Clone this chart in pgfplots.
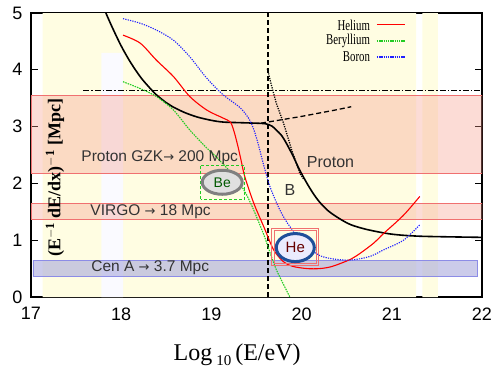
\documentclass[border=0pt]{standalone}
\usepackage{fontspec}
\setmainfont{Liberation Serif}
\setsansfont{Liberation Sans}
\newfontfamily\arrowfont{DejaVu Sans}
\usepackage{pgfplots}
\pgfplotsset{compat=1.18}
\usetikzlibrary{calc,shapes.geometric}

\definecolor{bgyellow}{HTML}{FFFDE2}
\definecolor{bandred}{HTML}{F07070}
\definecolor{bandfill}{HTML}{F59A8A}
\definecolor{cenfill}{HTML}{A8A8DC}
\definecolor{cenline}{HTML}{8C8CE6}
\definecolor{heblue}{HTML}{1F4F9A}
\definecolor{txtgray}{HTML}{333333}
\definecolor{begreen}{HTML}{22CC22}
\definecolor{boblue}{HTML}{2020FF}
\newcommand{\arr}{{\arrowfont\fontsize{13}{13}\selectfont →}}

\begin{document}
\begin{tikzpicture}
\begin{axis}[
    name=ax,
    width=451pt, height=284pt, scale only axis,
    xmin=17, xmax=22, ymin=0, ymax=5,
    xtick={17,18,19,20,21,22}, ytick={0,1,2,3,4,5},
    tick align=inside, major tick length=7pt,
    axis line style={line width=1.3pt},
    tick style={line width=1.1pt, black},
    ticklabel style={font=\sffamily\fontsize{18}{18}\selectfont},
    xticklabel style={yshift=-7pt},
    yticklabel style={xshift=-5pt},
    /pgf/number format/assume math mode=true,
    xlabel={Log\,\raisebox{-5pt}{\fontsize{15}{15}\selectfont 10}\,(E/eV)},
    xlabel style={at={(axis description cs:0.457,-0.204)}, anchor=center,
        font=\fontsize{24}{24}\selectfont},
    ylabel={(E$^{\mathbf{-1}}$ dE/dx)$^{\mathbf{-1}}$ [Mpc]},
    ylabel style={at={(axis description cs:0.053,0.42)}, anchor=center,
        font=\bfseries\fontsize{18}{18}\selectfont},
    clip mode=individual,
]
% pale yellow background
\addplot[fill=bgyellow, draw=none, forget plot] coordinates {(17.13,0) (21.27,0) (21.27,5) (17.13,5) (17.13,0)};
\addplot[fill=bgyellow, draw=none, forget plot] coordinates {(21.34,0) (21.51,0) (21.51,5) (21.34,5) (21.34,0)};
\addplot[fill=white!98!blue, draw=none, forget plot] coordinates {(17.78,0) (18.02,0) (18.02,4.3) (17.78,4.3) (17.78,0)};

% distance bands
\addplot[fill=bandfill, fill opacity=0.35, draw=bandred, line width=0.6pt, forget plot] coordinates {(17,2.18) (22,2.18) (22,3.55) (17,3.55) (17,2.18)};
\addplot[fill=bandfill, fill opacity=0.35, draw=bandred, line width=0.6pt, forget plot] coordinates {(17,1.37) (22,1.37) (22,1.65) (17,1.65) (17,1.37)};
\addplot[fill=cenfill, fill opacity=0.6, draw=cenline, line width=0.5pt, forget plot] coordinates {(17.02,0.37) (21.95,0.37) (21.95,0.65) (17.02,0.65) (17.02,0.37)};

% reference lines
\addplot[black, line width=1.1pt, dash pattern=on 6pt off 2pt on 1.5pt off 2pt, forget plot] coordinates {(17.58,3.63) (22,3.63)};
\addplot[black, line width=1.5pt, dash pattern=on 5pt off 3pt, forget plot] coordinates {(19.63,0) (19.63,5)};

% proton
\addplot[black, line width=1.6pt, smooth, forget plot] coordinates {
(17.83,5.0) (17.9,4.75) (18.0,4.42) (18.1,4.14) (18.21,3.88) (18.3,3.71)
(18.39,3.56) (18.5,3.42) (18.57,3.35) (18.7,3.25) (18.84,3.17) (19.0,3.11)
(19.13,3.08) (19.3,3.07) (19.5,3.06) (19.6,3.05) (19.67,3.01) (19.72,2.94)
(19.78,2.84) (19.83,2.71) (19.9,2.5) (19.95,2.33) (19.99,2.2) (20.06,2.0)
(20.13,1.82) (20.2,1.67) (20.3,1.51) (20.43,1.37) (20.55,1.27) (20.72,1.19)
(20.94,1.12) (21.1,1.09) (21.31,1.07) (21.6,1.06) (22,1.05)};
\addplot[black, line width=1.3pt, dash pattern=on 5pt off 3pt, smooth, forget plot] coordinates {
(19.55,3.06) (19.7,3.1) (19.85,3.14) (20.0,3.18) (20.2,3.24) (20.4,3.3) (20.55,3.35)};
\addplot[black, line width=1.3pt, dash pattern=on 1.2pt off 1.2pt, forget plot] coordinates {
(19.62,4.02) (19.67,3.70) (19.72,3.41) (19.8,3.06) (19.89,2.59) (19.98,2.18) (20.02,2.08)};

% nuclei
\addplot[red, line width=1.1pt, smooth, forget plot] coordinates {
(18.02,4.61) (18.21,4.47) (18.39,4.17) (18.58,3.88) (18.76,3.53) (18.95,3.29)
(19.13,3.15) (19.21,3.08) (19.25,2.92) (19.29,2.68) (19.33,2.4) (19.37,2.12)
(19.47,1.65) (19.58,1.24) (19.69,0.83) (19.8,0.62) (19.9,0.54) (20.06,0.5)
(20.2,0.5) (20.32,0.53) (20.43,0.59) (20.55,0.67) (20.65,0.77) (20.8,0.95)
(20.91,1.12) (21.03,1.29) (21.13,1.44) (21.22,1.6) (21.31,1.77)};
\addplot[begreen, line width=1.1pt, dash pattern=on 1.5pt off 1pt, smooth, forget plot] coordinates {
(18.02,3.79) (18.21,3.67) (18.39,3.53) (18.58,3.29) (18.76,2.94) (18.95,2.62)
(19.02,2.52) (19.2,2.22) (19.35,1.91) (19.45,1.6) (19.58,1.1) (19.65,0.78)
(19.72,0.48) (19.8,0.22) (19.87,0.0)};
\addplot[boblue, line width=1.1pt, dash pattern=on 1.2pt off 1.2pt, smooth, forget plot] coordinates {
(18.02,4.9) (18.21,4.82) (18.39,4.7) (18.58,4.52) (18.76,4.23) (18.95,3.85)
(19.13,3.56) (19.32,3.33) (19.43,3.1) (19.5,2.8) (19.58,2.32) (19.65,1.94)
(19.76,1.53) (19.87,1.24) (20.06,0.89) (20.2,0.73) (20.35,0.67) (20.54,0.65)
(20.75,0.71) (20.91,0.83) (21.13,1.0) (21.31,1.27)};

% legend
\node[anchor=east, inner sep=0pt, font=\fontsize{15}{15}\selectfont] at (rel axis cs:0.752,0.958) {\scalebox{0.72}[1]{Helium}};
\node[anchor=east, inner sep=0pt, font=\fontsize{15}{15}\selectfont] at (rel axis cs:0.752,0.901) {\scalebox{0.72}[1]{Beryllium}};
\node[anchor=east, inner sep=0pt, font=\fontsize{15}{15}\selectfont] at (rel axis cs:0.752,0.845) {\scalebox{0.72}[1]{Boron}};
\draw[red, line width=1.1pt] (rel axis cs:0.767,0.958) -- (rel axis cs:0.829,0.958);
\draw[draw=begreen, line width=1.4pt, dash pattern=on 1.4pt off 0.8pt] (rel axis cs:0.767,0.901) -- (rel axis cs:0.829,0.901);
\draw[draw=boblue, line width=1.4pt, dash pattern=on 1.4pt off 0.8pt] (rel axis cs:0.767,0.845) -- (rel axis cs:0.829,0.845);

% annotations
\node[anchor=west, text=txtgray, font=\sffamily\fontsize{15.5}{15.5}\selectfont] at (axis cs:17.52,2.46) {Proton GZK\arr\ 200 Mpc};
\node[anchor=west, text=txtgray, font=\sffamily\fontsize{15.5}{15.5}\selectfont] at (axis cs:17.62,1.50) {VIRGO \arr\ 18 Mpc};
\node[anchor=west, text=txtgray, font=\sffamily\fontsize{15.5}{15.5}\selectfont] at (axis cs:17.63,0.52) {Cen A \arr\ 3.7 Mpc};
\node[anchor=west, text=txtgray, font=\sffamily\fontsize{16}{16}\selectfont] at (axis cs:20.02,2.37) {Proton};
\node[text=txtgray, font=\sffamily\fontsize{16}{16}\selectfont] at (axis cs:19.87,1.88) {B};

\draw[begreen, line width=1pt, dash pattern=on 3pt off 2pt] (axis cs:18.88,1.72) rectangle (axis cs:19.37,2.32);
\node[ellipse, draw=gray, line width=3pt, fill=black!12, minimum width=40pt, minimum height=24pt,
    inner sep=0pt, text=green!35!black, font=\sffamily\fontsize{14}{14}\selectfont] at (axis cs:19.12,2.02) {Be};

\draw[bandred, line width=0.7pt] (axis cs:19.67,0.56) rectangle (axis cs:20.19,1.21);
\draw[bandred, line width=0.7pt] (axis cs:19.70,0.60) rectangle (axis cs:20.16,1.17);
\node[ellipse, draw=heblue, line width=3pt, fill=black!12!blue!8, minimum width=38pt, minimum height=28pt,
    inner sep=0pt, text=black!60!red, font=\sffamily\fontsize{15}{15}\selectfont] at (axis cs:19.93,0.87) {He};

\coordinate (bl) at (rel axis cs:0,0);
\coordinate (tr) at (rel axis cs:1,1);
\end{axis}
\pgfresetboundingbox
\path[use as bounding box] ($(bl)+(-31pt,-75pt)$) rectangle ($(tr)+(16pt,13pt)$);
\end{tikzpicture}
\end{document}
